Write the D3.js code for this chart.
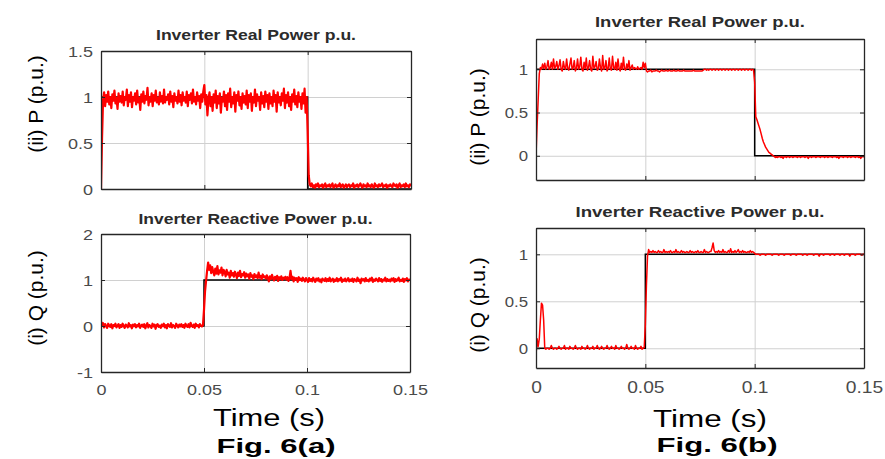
<!DOCTYPE html>
<html>
<head>
<meta charset="utf-8">
<script src="https://cdn.jsdelivr.net/npm/d3@7"></script>
<style>
  body { margin: 0; background: #fff; }
  svg { display: block; font-family: "Liberation Sans", Arial, sans-serif; }
</style>
</head>
<body>
<svg id="fig" width="885" height="459"></svg>
<script>
// each inner row = 10 ms of samples, last row is the sample at t = 0.15
var xTicks = [0, 0.05, 0.1, 0.15];

var refPT = [0, 0, 0.1, 0.1, 0.15], refPV = [0, 1, 1, 0, 0];
var refQT = [0, 0.05, 0.05, 0.15],   refQV = [0, 0, 1, 1];

// Fig 6(a) real power
var aP = [
  [0, 0.55, 0.97, 1.05, 0.9, 1.02, 0.95, 1.06, 0.92, 1.0, 0.88, 1.03, 0.96, 1.07, 0.93, 0.99, 0.87, 1.04, 0.95, 1.01],
  [0.94, 1.06, 0.91, 1.0, 0.97, 1.08, 0.9, 1.02, 0.95, 1.05, 0.89, 1.0, 0.96, 1.04, 0.92, 1.07, 0.94, 0.99, 0.86, 1.03],
  [0.95, 1.06, 0.93, 1.01, 0.97, 1.1, 0.91, 1.0, 0.95, 1.04, 0.9, 1.02, 0.96, 1.07, 0.94, 0.99, 0.92, 1.05, 0.95, 1.01],
  [0.93, 1.08, 0.94, 1.0, 0.97, 1.03, 0.92, 1.06, 0.95, 1.01, 0.89, 1.04, 0.96, 1.0, 0.93, 1.07, 0.95, 1.02, 0.91, 1.05],
  [0.96, 1.0, 0.94, 1.06, 0.9, 1.02, 0.97, 1.04, 0.93, 1.08, 0.95, 1.0, 0.92, 1.05, 0.96, 1.01, 0.88, 1.03, 0.95, 1.06],
  [1.13, 0.92, 1.02, 0.8, 0.98, 1.05, 0.9, 1.0, 0.85, 1.03, 0.94, 1.07, 0.88, 1.01, 0.93, 1.04, 0.83, 0.99, 0.95, 1.06],
  [0.9, 1.02, 0.86, 1.04, 0.95, 1.09, 0.89, 1.0, 0.93, 1.05, 0.84, 1.02, 0.96, 1.06, 0.91, 1.0, 0.87, 1.04, 0.94, 1.01],
  [0.92, 1.07, 0.88, 1.02, 0.95, 1.04, 0.85, 1.0, 0.94, 1.08, 0.9, 1.03, 0.96, 1.0, 0.86, 1.05, 0.93, 1.01, 0.89, 1.06],
  [0.95, 1.02, 0.87, 1.04, 0.93, 1.0, 0.9, 1.07, 0.95, 1.02, 0.84, 1.05, 0.94, 1.0, 0.91, 1.04, 0.96, 1.09, 0.88, 1.02],
  [0.94, 1.05, 0.9, 1.0, 0.86, 1.03, 0.95, 1.08, 0.92, 1.01, 0.89, 1.05, 0.95, 1.0, 0.87, 1.04, 0.93, 1.09, 0.83, 1.0],
  [0.63, 0.15, 0.05, 0.03, 0.06, 0.02, 0.04, 0.01, 0.05, 0.03, 0.06, 0.02, 0.04, 0.03, 0.05, 0.01, 0.04, 0.06, 0.02, 0.04],
  [0.03, 0.05, 0.02, 0.04, 0.06, 0.01, 0.03, 0.05, 0.02, 0.04, 0.03, 0.06, 0.02, 0.04, 0.05, 0.01, 0.03, 0.05, 0.02, 0.04],
  [0.05, 0.02, 0.04, 0.03, 0.06, 0.01, 0.04, 0.03, 0.05, 0.02, 0.04, 0.06, 0.03, 0.01, 0.05, 0.03, 0.04, 0.02, 0.06, 0.03],
  [0.04, 0.02, 0.05, 0.03, 0.01, 0.06, 0.03, 0.04, 0.02, 0.05, 0.03, 0.04, 0.06, 0.02, 0.04, 0.03, 0.05, 0.01, 0.04, 0.03],
  [0.05, 0.03, 0.02, 0.06, 0.04, 0.03, 0.05, 0.01, 0.04, 0.06, 0.02, 0.04, 0.03, 0.05, 0.02, 0.06, 0.03, 0.04, 0.02, 0.05],
  [0.03]
];

// Fig 6(a) reactive power
var aQ = [
  [0.1, 0.02, 0.06, -0.03, 0.04, 0.0, -0.04, 0.05, 0.01, -0.02, 0.04, -0.05, 0.02, 0.0, 0.05, -0.03, 0.01, 0.04, -0.04, 0.02],
  [-0.02, 0.05, 0.0, -0.04, 0.03, 0.01, -0.03, 0.06, -0.01, 0.02, -0.05, 0.03, 0.0, 0.04, -0.03, 0.02, -0.01, 0.05, -0.04, 0.01],
  [0.03, -0.02, 0.04, -0.05, 0.01, 0.06, -0.03, 0.02, 0.0, -0.04, 0.05, -0.01, 0.03, -0.06, 0.02, 0.04, -0.02, 0.01, -0.04, 0.03],
  [0.0, 0.05, -0.03, 0.02, -0.05, 0.04, 0.01, -0.02, 0.06, -0.03, 0.02, 0.0, -0.04, 0.05, 0.01, -0.03, 0.03, -0.01, 0.04, -0.02],
  [0.02, -0.04, 0.05, 0.0, -0.02, 0.04, -0.03, 0.07, 0.01, -0.02, 0.03, -0.04, 0.05, 0.0, 0.02, -0.03, 0.04, 0.01, -0.01, 0.02],
  [0.35, 0.75, 0.98, 1.2, 1.38, 1.22, 1.32, 1.15, 1.28, 1.18, 1.1, 1.25, 1.14, 1.3, 1.12, 1.21, 1.16, 1.27, 1.1, 1.22],
  [1.18, 1.08, 1.22, 1.12, 1.16, 1.05, 1.2, 1.1, 1.15, 1.07, 1.18, 1.12, 1.04, 1.16, 1.09, 1.2, 1.06, 1.13, 1.1, 1.17],
  [1.05, 1.14, 1.08, 1.12, 1.03, 1.15, 1.07, 1.1, 1.02, 1.13, 1.06, 1.1, 1.04, 1.16, 1.05, 1.09, 1.02, 1.12, 1.06, 1.08],
  [1.03, 1.1, 1.05, 0.97, 1.08, 1.02, 1.11, 1.04, 0.99, 1.07, 1.03, 1.09, 0.98, 1.06, 1.02, 1.08, 1.0, 1.05, 1.03, 1.07],
  [1.01, 1.06, 0.98, 1.04, 1.2, 1.02, 1.07, 0.97, 1.05, 1.01, 1.04, 0.96, 1.06, 1.0, 1.03, 0.98, 1.05, 1.01, 0.97, 1.04],
  [1.0, 0.96, 1.04, 0.98, 1.02, 0.97, 1.05, 1.0, 0.96, 1.03, 0.99, 1.04, 0.97, 1.01, 0.95, 1.03, 1.0, 0.98, 1.04, 0.97],
  [1.02, 0.98, 1.05, 0.97, 1.0, 1.03, 0.96, 1.01, 0.98, 1.04, 0.97, 1.02, 0.99, 1.05, 0.96, 1.01, 0.98, 1.03, 0.97, 1.0],
  [1.04, 0.97, 1.01, 0.98, 1.03, 0.96, 1.02, 1.0, 0.97, 1.05, 0.98, 1.01, 0.93, 1.03, 0.99, 1.02, 0.97, 1.04, 0.98, 1.0],
  [0.97, 1.03, 0.99, 1.05, 0.96, 1.01, 0.98, 1.03, 1.0, 0.97, 1.04, 0.98, 1.02, 0.96, 1.01, 0.99, 1.05, 0.97, 1.02, 0.98],
  [1.01, 0.97, 1.03, 0.99, 1.04, 0.96, 1.02, 0.98, 1.01, 1.05, 0.97, 1.0, 0.98, 1.03, 0.96, 1.02, 0.99, 1.04, 0.97, 1.01],
  [1.0]
];

// Fig 6(b) real power
var bP = [
  [0, 0.35, 0.65, 0.95, 1.02, 1.0, 1.06, 1.01, 1.07, 1.0, 1.03, 1.1, 1.0, 1.02, 1.08, 1.0, 1.12, 1.01, 1.03, 1.09],
  [1.0, 1.04, 1.11, 1.0, 0.98, 1.09, 1.02, 1.0, 1.12, 1.01, 0.99, 1.06, 1.13, 1.0, 1.02, 1.1, 0.98, 1.01, 1.12, 1.0],
  [1.03, 1.14, 1.0, 0.98, 1.08, 1.01, 1.13, 0.99, 1.02, 1.1, 1.0, 0.98, 1.15, 1.01, 1.03, 1.09, 0.99, 1.0, 1.12, 1.02],
  [0.98, 1.16, 1.0, 1.02, 1.1, 0.98, 1.01, 1.13, 1.0, 0.99, 1.15, 1.02, 1.0, 1.08, 0.99, 1.12, 1.01, 0.98, 1.07, 1.0],
  [1.14, 1.0, 0.99, 1.06, 1.01, 1.1, 0.99, 1.02, 1.05, 1.0, 1.02, 1.01, 1.0, 1.03, 1.0, 1.01, 1.02, 1.0, 1.08, 1.02],
  [1.07, 0.98, 0.97, 0.98, 0.98, 0.99, 0.97, 0.98, 0.98, 0.98, 0.99, 0.98, 0.98, 0.97, 0.98, 0.99, 0.98, 0.98, 0.98, 0.99],
  [0.98, 0.98, 0.99, 0.98, 0.98, 0.98, 0.99, 0.98, 0.98, 0.98, 0.99, 0.98, 0.98, 0.98, 0.98, 0.99, 0.98, 0.98, 0.98, 0.98],
  [0.98, 0.98, 0.98, 0.98, 0.99, 0.98, 0.98, 0.98, 0.98, 0.98, 0.98, 0.98, 0.98, 0.99, 1.0, 1.0, 0.99, 1.0, 0.99, 1.0],
  [1.0, 0.99, 1.0, 1.0, 0.99, 1.0, 1.0, 0.99, 1.0, 1.0, 0.99, 1.0, 1.0, 0.99, 1.0, 1.0, 0.99, 1.0, 1.0, 0.99],
  [1.0, 1.0, 0.99, 1.0, 1.0, 0.99, 1.0, 1.0, 0.99, 1.0, 1.0, 0.99, 1.0, 1.0, 0.99, 1.0, 1.0, 0.99, 1.0, 0.99],
  [0.85, 0.45, 0.42, 0.38, 0.34, 0.3, 0.25, 0.2, 0.16, 0.13, 0.1, 0.08, 0.06, 0.04, 0.03, 0.02, 0.01, 0.0, -0.01, -0.02],
  [-0.01, -0.02, -0.01, -0.01, -0.02, -0.01, -0.03, -0.01, -0.01, -0.02, -0.01, -0.01, -0.02, -0.01, -0.01, -0.02, -0.01, -0.01, -0.01, -0.02],
  [-0.01, -0.01, -0.02, -0.01, -0.01, -0.01, -0.02, -0.01, -0.01, -0.03, -0.01, -0.01, -0.02, -0.01, -0.01, -0.01, -0.02, -0.01, -0.01, -0.01],
  [-0.02, -0.01, -0.01, -0.01, -0.02, -0.01, -0.01, -0.02, -0.01, -0.01, -0.01, -0.02, -0.01, -0.01, -0.01, -0.02, -0.01, -0.03, -0.01, -0.01],
  [-0.01, -0.02, -0.01, -0.01, -0.01, -0.02, -0.01, -0.01, -0.02, -0.01, -0.01, -0.01, -0.02, -0.01, -0.01, -0.02, -0.01, -0.03, -0.01, -0.01],
  [-0.01]
];

// Fig 6(b) reactive power
var bQ = [
  [-0.08, 0.1, 0.02, 0.1, 0.3, 0.48, 0.46, 0.3, 0.0, -0.01, 0.0, 0.0, -0.01, 0.0, 0.03, 0.0, -0.01, 0.0, 0.0, -0.01],
  [0.0, 0.02, 0.0, -0.01, 0.0, 0.0, 0.03, -0.01, 0.0, 0.0, -0.01, 0.02, 0.0, 0.0, -0.01, 0.0, 0.03, 0.0, -0.01, 0.0],
  [0.0, -0.01, 0.02, 0.0, 0.0, -0.01, 0.0, 0.03, 0.0, -0.01, 0.0, 0.0, 0.02, -0.01, 0.0, 0.0, 0.03, 0.0, -0.01, 0.0],
  [0.02, 0.0, -0.01, 0.0, 0.0, 0.03, 0.0, -0.01, 0.0, 0.02, 0.0, 0.0, -0.01, 0.03, 0.0, 0.0, -0.01, 0.0, 0.02, 0.0],
  [0.0, -0.01, 0.0, 0.04, 0.0, -0.01, 0.0, 0.02, 0.0, 0.0, -0.01, 0.03, 0.0, -0.01, 0.0, 0.0, 0.02, -0.01, 0.0, 0.01],
  [0.25, 0.67, 0.98, 1.05, 1.02, 1.03, 1.02, 1.04, 1.02, 1.03, 1.02, 1.02, 1.04, 1.02, 1.03, 1.02, 1.02, 1.05, 1.02, 1.03],
  [1.02, 1.03, 1.02, 1.04, 1.02, 1.02, 1.03, 1.02, 1.05, 1.02, 1.03, 1.02, 1.02, 1.04, 1.02, 1.03, 1.02, 1.02, 1.03, 1.02],
  [1.02, 1.04, 1.02, 1.03, 1.02, 1.02, 1.03, 1.02, 1.04, 1.02, 1.02, 1.03, 1.02, 1.02, 1.05, 1.02, 1.03, 1.02, 1.02, 1.03],
  [1.03, 1.07, 1.12, 1.04, 1.02, 1.03, 1.02, 1.04, 1.02, 1.03, 1.02, 1.05, 1.02, 1.03, 1.02, 1.02, 1.04, 1.02, 1.06, 1.02],
  [1.03, 1.02, 1.04, 1.02, 1.03, 1.05, 1.02, 1.03, 1.02, 1.04, 1.02, 1.03, 1.02, 1.02, 1.03, 1.02, 1.04, 1.02, 1.03, 1.02],
  [1.01, 1.0, 1.0, 1.0, 1.0, 0.99, 1.0, 1.0, 1.0, 1.0, 0.99, 1.0, 1.0, 1.0, 1.0, 1.0, 0.99, 1.0, 1.0, 1.0],
  [1.0, 1.0, 0.99, 1.0, 1.0, 1.0, 1.0, 0.99, 1.0, 1.0, 1.0, 1.0, 1.0, 0.99, 1.0, 1.0, 1.0, 1.0, 0.99, 1.0],
  [1.0, 1.0, 1.0, 1.0, 0.99, 1.0, 1.0, 1.0, 0.99, 1.0, 1.0, 1.0, 1.0, 1.0, 0.99, 1.0, 1.0, 1.0, 1.0, 0.98],
  [1.0, 1.0, 1.0, 0.99, 1.0, 1.0, 1.0, 1.0, 1.0, 0.99, 1.0, 1.0, 1.0, 0.99, 1.0, 1.0, 1.0, 1.0, 0.99, 1.0],
  [1.0, 1.0, 0.99, 1.0, 1.0, 1.0, 1.0, 0.98, 1.0, 1.0, 1.0, 1.0, 0.99, 1.0, 1.0, 1.0, 1.0, 1.0, 0.99, 1.0],
  [1.0]
];

var svg = d3.select('#fig');

function samples(rows) {
  var out = [];
  rows.forEach(function(r, i) {
    r.forEach(function(v, j) { out.push({ t: i * 0.01 + j * 0.01 / r.length, v: v }); });
  });
  return out;
}

function label(x, y, str, size, weight, fill, len) {
  return svg.append('text')
    .attr('x', x).attr('y', y)
    .attr('text-anchor', 'middle')
    .attr('font-size', size)
    .attr('font-weight', weight)
    .attr('fill', fill)
    .attr('textLength', len)
    .attr('lengthAdjust', 'spacingAndGlyphs')
    .text(str);
}

function panel(p, id) {
  var x = d3.scaleLinear().domain([0, 0.15]).range([0, p.w]);
  var y = d3.scaleLinear().domain(p.yDom).range([p.h, 0]);
  var g = svg.append('g').attr('transform', 'translate(' + p.left + ',' + p.top + ')');

  // grid
  g.append('g').attr('transform', 'translate(0,' + p.h + ')')
    .call(d3.axisBottom(x).tickValues(xTicks).tickSize(-p.h).tickFormat(''))
    .call(function(s) { s.select('.domain').remove(); })
    .selectAll('line').attr('stroke', '#d0d0d0');
  g.append('g')
    .call(d3.axisLeft(y).tickValues(p.yTicks).tickSize(-p.w).tickFormat(''))
    .call(function(s) { s.select('.domain').remove(); })
    .selectAll('line').attr('stroke', '#d0d0d0');

  g.append('clipPath').attr('id', id).append('rect').attr('width', p.w).attr('height', p.h);

  var line = d3.line().x(function(d) { return x(d.t); }).y(function(d) { return y(d.v); });
  var ref = p.refT.map(function(t, i) { return { t: t, v: p.refV[i] }; });

  g.append('path').datum(ref)
    .attr('clip-path', 'url(#' + id + ')')
    .attr('fill', 'none').attr('stroke', '#000').attr('stroke-width', 1.5)
    .attr('d', line);
  g.append('path').datum(samples(p.data))
    .attr('clip-path', 'url(#' + id + ')')
    .attr('fill', 'none').attr('stroke', '#ff0000').attr('stroke-width', p.lw)
    .attr('stroke-linejoin', 'round')
    .attr('d', line);

  // box with inward ticks
  function frame(sel) {
    sel.select('.domain').attr('stroke', '#262626').attr('stroke-width', 1.3);
    sel.selectAll('.tick line').attr('stroke', '#262626');
  }
  var bottom = g.append('g').attr('transform', 'translate(0,' + p.h + ')')
    .call(d3.axisBottom(x).tickValues(xTicks).tickSize(-4).tickSizeOuter(0)
      .tickFormat(p.xLabels ? function(d) { return String(d); } : ''))
    .call(frame);
  bottom.selectAll('text')
    .attr('y', p.xLabelY).attr('dy', 0)
    .attr('fill', '#4a4a4a')
    .attr('font-size', p.xFont)
    .attr('font-family', null);
  g.append('g')
    .call(d3.axisTop(x).tickValues(xTicks).tickSize(-4).tickSizeOuter(0).tickFormat(''))
    .call(frame);
  var left = g.append('g')
    .call(d3.axisLeft(y).tickValues(p.yTicks).tickSize(-4).tickSizeOuter(0)
      .tickFormat(function(d) { return String(d); }))
    .call(frame);
  left.selectAll('text')
    .attr('x', -8).attr('dy', '0.35em')
    .attr('fill', '#4a4a4a')
    .attr('font-size', p.yFont)
    .attr('font-family', null);
  g.append('g').attr('transform', 'translate(' + p.w + ',0)')
    .call(d3.axisRight(y).tickValues(p.yTicks).tickSize(-4).tickSizeOuter(0).tickFormat(''))
    .call(frame);

  // stretch tick text horizontally like the source image
  g.selectAll('.tick text').each(function() {
    var w = this.getComputedTextLength();
    if (w > 0) d3.select(this).attr('textLength', w * 1.2).attr('lengthAdjust', 'spacingAndGlyphs');
  });

  label(p.left + p.w / 2, p.titleY, p.title, 14, 'bold', '#2b2b2b', p.titleLen);

  svg.append('text')
    .attr('transform', 'translate(' + p.ylX + ',' + p.ylY + ') rotate(-90)')
    .attr('text-anchor', 'middle')
    .attr('font-size', 21)
    .attr('fill', '#000')
    .text(p.ylabel);
}

panel({ left: 101, top: 51, w: 310, h: 138, yDom: [0, 1.5], yTicks: [0, 0.5, 1, 1.5],
  data: aP, refT: refPT, refV: refPV, lw: 2.2, xLabels: false, xLabelY: 23, xFont: 15, yFont: 15,
  title: 'Inverter Real Power p.u.', titleY: 40, titleLen: 200,
  ylabel: '(ii) P (p.u.)', ylX: 43, ylY: 104 }, 'c1');

panel({ left: 101, top: 234, w: 309, h: 138, yDom: [-1, 2], yTicks: [-1, 0, 1, 2],
  data: aQ, refT: refQT, refV: refQV, lw: 2.2, xLabels: true, xLabelY: 23, xFont: 15, yFont: 15,
  title: 'Inverter Reactive Power p.u.', titleY: 224, titleLen: 234,
  ylabel: '(i) Q (p.u.)', ylX: 43, ylY: 298 }, 'c2');

panel({ left: 536, top: 39, w: 328, h: 141, yDom: [-0.28, 1.35], yTicks: [0, 0.5, 1],
  data: bP, refT: refPT, refV: refPV, lw: 1.5, xLabels: false, xLabelY: 25, xFont: 16, yFont: 14,
  title: 'Inverter Real Power p.u.', titleY: 27, titleLen: 210,
  ylabel: '(ii) P (p.u.)', ylX: 485, ylY: 117 }, 'c3');

panel({ left: 536, top: 228, w: 328, h: 140, yDom: [-0.21, 1.28], yTicks: [0, 0.5, 1],
  data: bQ, refT: refQT, refV: refQV, lw: 1.5, xLabels: true, xLabelY: 25, xFont: 16, yFont: 14,
  title: 'Inverter Reactive Power p.u.', titleY: 217, titleLen: 249,
  ylabel: '(i) Q (p.u.)', ylX: 485, ylY: 305 }, 'c4');

label(269, 426, 'Time (s)', 23, 'normal', '#000', 112);
label(710, 427, 'Time (s)', 23, 'normal', '#000', 114);
label(276, 453, 'Fig. 6(a)', 21, 'bold', '#000', 119);
label(717, 452, 'Fig. 6(b)', 21, 'bold', '#000', 121);
</script>
</body>
</html>
